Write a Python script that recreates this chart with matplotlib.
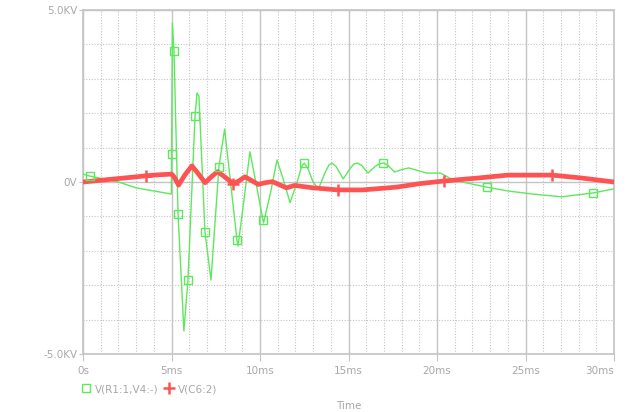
import numpy as np
import matplotlib
matplotlib.use("Agg")
import matplotlib.pyplot as plt
from matplotlib.ticker import MultipleLocator, FixedLocator
from matplotlib.lines import Line2D

# V(R1:1,V4:-) in kV, time in ms
t_green = [0.0, 0.4, 2.0, 3.0, 4.99, 5.05, 5.14, 5.37, 5.7, 5.93, 6.33, 6.44, 6.55,
           6.89, 7.23, 7.68, 8.0, 8.7, 8.76, 9.1, 9.43, 9.8, 10.2, 10.6, 10.96,
           11.3, 11.7, 12.1, 12.35, 12.5, 12.7, 13.0, 13.3, 13.7, 13.9, 14.07,
           14.3, 14.7, 15.1, 15.3, 15.5, 15.75, 16.1, 16.5, 16.75, 16.95, 17.2,
           17.6, 18.0, 18.4, 18.8, 19.4, 20.2, 20.9, 22.8, 24.0, 25.4, 27.05,
           28.8, 30.0]
v_green = [0.23, 0.17, 0.0, -0.17, -0.35, 4.62, 3.81, -0.93, -4.33, -2.85, 1.92, 2.59, 2.5,
           -1.45, -2.85, 0.44, 1.54, -1.69, -1.86, -0.5, 0.88, -0.1, -1.19, -0.3, 0.64,
           0.1, -0.6, 0.0, 0.45, 0.55, 0.4, 0.0, -0.2, 0.3, 0.5, 0.55,
           0.45, 0.09, 0.4, 0.52, 0.55, 0.48, 0.26, 0.45, 0.53, 0.55, 0.5,
           0.29, 0.36, 0.41, 0.35, 0.26, 0.26, 0.06, -0.15, -0.26, -0.35, -0.43,
           -0.32, -0.2]

# V(C6:2) in kV
t_red = [0.0, 1.0, 2.0, 3.0, 3.55, 4.0, 5.0, 5.15, 5.4, 5.75, 6.15, 6.5, 6.9, 7.25,
         7.6, 8.0, 8.5, 8.8, 9.15, 9.5, 9.9, 10.3, 10.7, 11.1, 11.5, 11.95, 13.0,
         14.4, 15.8, 17.7, 19.0, 20.4, 22.4, 24.0, 26.5, 28.1, 30.0]
v_red = [0.0, 0.05, 0.1, 0.15, 0.18, 0.2, 0.23, 0.15, -0.09, 0.2, 0.47, 0.25, -0.02, 0.15,
         0.3, 0.15, -0.05, 0.03, 0.15, 0.05, -0.07, -0.02, 0.01, -0.08, -0.17, -0.1, -0.17,
         -0.23, -0.23, -0.15, -0.05, 0.03, 0.12, 0.2, 0.2, 0.12, 0.0]

green_marks = [0.4, 5.004, 5.14, 5.37, 5.93, 6.33, 6.89, 7.68, 8.7, 10.17, 12.5, 16.95, 22.8, 28.8]
red_marks = [3.55, 8.5, 14.4, 20.4, 26.5]

x_ticks = [0, 5, 10, 15, 20, 25, 30]
x_labels = ["0s", "5ms", "10ms", "15ms", "20ms", "25ms", "30ms"]
y_ticks = [-5, 0, 5]
y_labels = ["-5.0KV", "0V", "5.0KV"]

green = "#5ee85e"
red = "#ff5252"
txt = "#a8a8a8"
gridc = "#c4c4c4"
fs = 7.5

fig = plt.figure(figsize=(6.27, 4.12), dpi=100)
ax = fig.add_axes([83 / 627, 1 - 354 / 412, (614 - 83) / 627, (354 - 10) / 412])

ax.plot(t_green, v_green, color=green, lw=1.0, zorder=3)
ax.plot(t_red, v_red, color=red, lw=3.4, zorder=4, solid_capstyle="round")
ax.plot(green_marks, np.interp(green_marks, t_green, v_green), ls="none", marker="s",
        ms=6, mfc="none", mec=green, mew=1.0, zorder=5)
ax.plot(red_marks, np.interp(red_marks, t_red, v_red), ls="none", marker="+",
        ms=9, mec=red, mew=1.8, zorder=5)

ax.set_xlim(0, 30)
ax.set_ylim(-5, 5)
ax.xaxis.set_major_locator(FixedLocator(x_ticks))
ax.set_xticklabels(x_labels)
ax.xaxis.set_minor_locator(MultipleLocator(1))
ax.yaxis.set_major_locator(FixedLocator(y_ticks))
ax.set_yticklabels(y_labels)
ax.yaxis.set_minor_locator(MultipleLocator(1))

ax.grid(which="major", color=gridc, lw=1.0, ls="-")
ax.grid(which="minor", color=gridc, lw=0.8, ls=(0, (1, 1.5)))
ax.set_axisbelow(True)
for s in ax.spines.values():
    s.set_color(gridc)
    s.set_linewidth(1.2)
ax.tick_params(which="minor", length=0)
ax.tick_params(axis="x", which="major", length=5, color=gridc, labelcolor=txt,
               labelsize=fs, pad=4)
ax.tick_params(axis="y", which="major", length=3, color=gridc, labelcolor=txt,
               labelsize=fs, pad=1)
# keep the last x label inside the figure
for lab in ax.get_xticklabels()[-1:]:
    lab.set_horizontalalignment("right")
    lab.set_x(30.2)

ax.set_xlabel("Time", color=txt, fontsize=fs)
ax.xaxis.set_label_coords(0.5, -(406 - 354) / 344, transform=ax.transAxes)
ax.xaxis.label.set_verticalalignment("center")

handles = [Line2D([], [], ls="none", marker="s", ms=6, mfc="none", mec=green, mew=1.0),
           Line2D([], [], ls="none", marker="+", ms=8, mec=red, mew=1.8)]
leg = fig.legend(handles, ["V(R1:1,V4:-)", "V(C6:2)"], loc="center left",
                 bbox_to_anchor=(82 / 627, 1 - 389 / 412), ncol=2, frameon=False,
                 fontsize=fs, handlelength=0.7, handletextpad=0.5, columnspacing=0.7,
                 borderaxespad=0, borderpad=0)
for tx in leg.get_texts():
    tx.set_color(txt)

fig.savefig("out.png", dpi=100)
